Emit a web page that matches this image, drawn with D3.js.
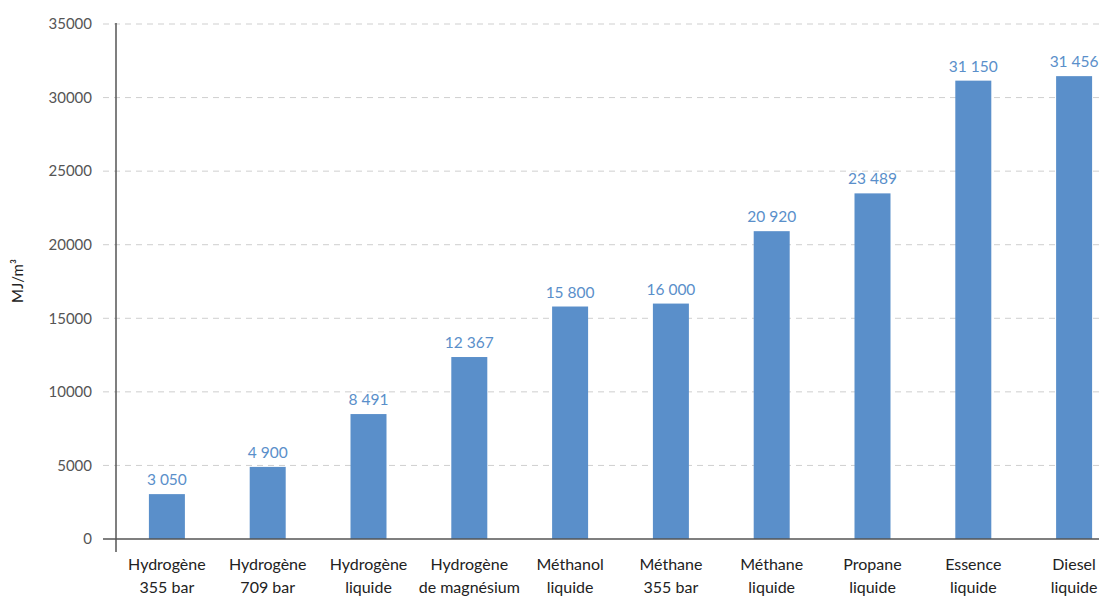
<!DOCTYPE html>
<html>
<head>
<meta charset="utf-8">
<script src="https://cdn.jsdelivr.net/npm/d3@7"></script>
<style>
  body { margin: 0; background: #fff; }
  svg { font-family: Lato, "Open Sans", sans-serif; }
</style>
</head>
<body>
<div id="main-chart"></div>
<script>
// Energy density by volume
var categories = [
  ["Hydrogène", "355 bar"],
  ["Hydrogène", "709 bar"],
  ["Hydrogène", "liquide"],
  ["Hydrogène", "de magnésium"],
  ["Méthanol", "liquide"],
  ["Méthane", "355 bar"],
  ["Méthane", "liquide"],
  ["Propane", "liquide"],
  ["Essence", "liquide"],
  ["Diesel", "liquide"]
];
var values = [3050, 4900, 8491, 12367, 15800, 16000, 20920, 23489, 31150, 31456];
var valueLabels = ["3 050", "4 900", "8 491", "12 367", "15 800", "16 000", "20 920", "23 489", "31 150", "31 456"];
var yTicks = [0, 5000, 10000, 15000, 20000, 25000, 30000, 35000];

var width = 1099, height = 597;
var axisX = 116, y0 = 539, yTop = 24;

var svg = d3.select("#main-chart")
  .append("svg")
  .attr("width", width)
  .attr("height", height);

var xScale = d3.scaleBand()
  .domain(d3.range(categories.length))
  .range([axisX + 0.5, axisX + 0.5 + 100.8 * categories.length]);

var yScale = d3.scaleLinear()
  .domain([0, 35000])
  .range([y0, yTop]);

var barWidth = 36;

// gridlines
svg.append("g")
  .selectAll("line")
  .data(yTicks.slice(1))
  .enter()
  .append("line")
  .attr("x1", 103)
  .attr("x2", width)
  .attr("y1", function(d) { return yScale(d); })
  .attr("y2", function(d) { return yScale(d); })
  .attr("stroke", "#cfcfcf")
  .attr("stroke-width", 1)
  .attr("stroke-dasharray", "6,5");

// y tick labels
svg.append("g")
  .selectAll("text")
  .data(yTicks)
  .enter()
  .append("text")
  .attr("x", 92)
  .attr("y", function(d) { return yScale(d); })
  .attr("dy", "0.35em")
  .attr("text-anchor", "end")
  .attr("fill", "#555")
  .style("font-size", "15px")
  .text(function(d) { return d; });

// bars
svg.append("g")
  .selectAll("rect")
  .data(values)
  .enter()
  .append("rect")
  .attr("x", function(d, i) { return xScale(i) + xScale.bandwidth() / 2 - barWidth / 2; })
  .attr("y", function(d) { return yScale(d); })
  .attr("width", barWidth)
  .attr("height", function(d) { return y0 - yScale(d); })
  .attr("fill", "#5a8fca");

// value labels
svg.append("g")
  .selectAll("text")
  .data(values)
  .enter()
  .append("text")
  .attr("x", function(d, i) { return xScale(i) + xScale.bandwidth() / 2; })
  .attr("y", function(d) { return yScale(d) - 9; })
  .attr("text-anchor", "middle")
  .attr("fill", "#5a8fca")
  .style("font-size", "15.5px")
  .text(function(d, i) { return valueLabels[i]; });

// axes
svg.append("line")
  .attr("x1", 103).attr("x2", width)
  .attr("y1", y0).attr("y2", y0)
  .attr("stroke", "#555").attr("stroke-width", 1.5);

svg.append("line")
  .attr("x1", axisX).attr("x2", axisX)
  .attr("y1", 23).attr("y2", 552)
  .attr("stroke", "#555").attr("stroke-width", 1.5);

// category labels
var cat = svg.append("g")
  .selectAll("text")
  .data(categories)
  .enter()
  .append("text")
  .attr("text-anchor", "middle")
  .attr("fill", "#222")
  .style("font-size", "16px");

cat.append("tspan")
  .attr("x", function(d, i) { return xScale(i) + xScale.bandwidth() / 2; })
  .attr("y", 570)
  .text(function(d) { return d[0]; });

cat.append("tspan")
  .attr("x", function(d, i) { return xScale(i) + xScale.bandwidth() / 2; })
  .attr("y", 593)
  .text(function(d) { return d[1]; });

// y axis label
svg.append("text")
  .attr("transform", "translate(23,281) rotate(-90)")
  .attr("text-anchor", "middle")
  .attr("fill", "#222")
  .style("font-size", "15px")
  .text("MJ/m³");
</script>
</body>
</html>
